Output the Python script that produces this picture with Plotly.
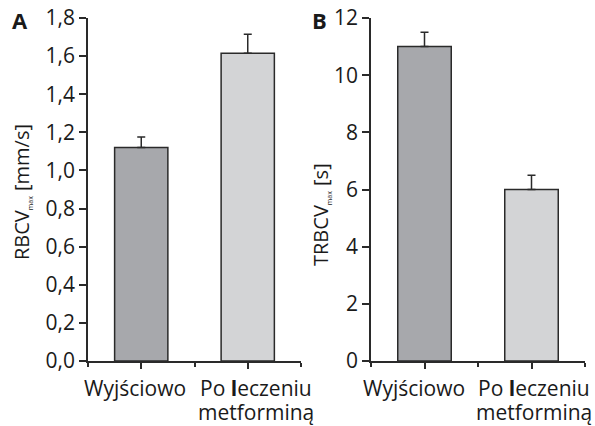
import plotly.graph_objects as go

# ---- data ----
categories = ["Wyjściowo", "Po <b>l</b>eczeniu<br>metforminą"]
rbcv_values = [1.12, 1.615]
rbcv_errors = [0.055, 0.10]
trbcv_values = [11.0, 6.0]
trbcv_errors = [0.5, 0.5]
rbcv_ticks = [0.0, 0.2, 0.4, 0.6, 0.8, 1.0, 1.2, 1.4, 1.6, 1.8]
trbcv_ticks = [0, 2, 4, 6, 8, 10, 12]
bar_colors = ["#a7a8ac", "#d3d4d6"]

W, H = 595, 426
FONT = "Open Sans"
AX = "#2a2a2a"
TXT = "#1a1a1a"

def px_x(p):
    return p / W

def px_y(p):
    return 1 - p / H

xpos = list(range(len(categories)))

fig = go.Figure()
fig.add_trace(go.Bar(
    x=xpos, y=rbcv_values, width=0.5,
    marker=dict(color=bar_colors, line=dict(color=AX, width=1.5)),
    error_y=dict(type="data", array=rbcv_errors, arrayminus=[0, 0], symmetric=False,
                 color=AX, thickness=1.5, width=4),
    xaxis="x", yaxis="y", showlegend=False,
))
fig.add_trace(go.Bar(
    x=xpos, y=trbcv_values, width=0.5,
    marker=dict(color=bar_colors, line=dict(color=AX, width=1.5)),
    error_y=dict(type="data", array=trbcv_errors, arrayminus=[0, 0], symmetric=False,
                 color=AX, thickness=1.5, width=4),
    xaxis="x2", yaxis="y2", showlegend=False,
))

ydom = [px_y(361), px_y(18)]
common_x = dict(
    range=[-0.5, 1.5], tickmode="array", tickvals=xpos, showticklabels=False,
    ticks="outside", ticklen=6, tickwidth=1.5, tickcolor=AX,
    showline=True, linecolor=AX, linewidth=1.5, showgrid=False, zeroline=False,
    minor=dict(tickmode="array", tickvals=[-0.5, 0.5, 1.5], ticks="outside",
               ticklen=4, tickwidth=1.5, tickcolor=AX),
    fixedrange=True, automargin=False,
)
common_y = dict(
    ticks="outside", ticklen=7, tickwidth=1.5, tickcolor=AX,
    showline=True, linecolor=AX, linewidth=1.5, showgrid=False, zeroline=False,
    tickfont=dict(family=FONT, size=21, color=TXT), domain=ydom,
    automargin=False, fixedrange=True,
)

fig.update_layout(
    template="none",
    width=W, height=H, margin=dict(l=0, r=0, t=0, b=0, pad=0),
    paper_bgcolor="white", plot_bgcolor="white", separators=", ",
    bargap=0.5,
    xaxis=dict(domain=[px_x(88), px_x(301)], anchor="y", **common_x),
    yaxis=dict(range=[0, 1.8], tickmode="array", tickvals=rbcv_ticks,
               tickformat=".1f", anchor="x", **common_y),
    xaxis2=dict(domain=[px_x(371), px_x(585)], anchor="y2", **common_x),
    yaxis2=dict(range=[0, 12], tickmode="array", tickvals=trbcv_ticks,
                tickformat="d", anchor="x2", **common_y),
    font=dict(family=FONT, color=TXT),
)

# category labels below the x axes (slightly offset from tick centres as in the original)
label_shift = {"x": [-6, 8], "x2": [-11, 2]}
LINE_GAP = 24
for xr in ("x", "x2"):
    for i, cat in enumerate(categories):
        for j, line in enumerate(cat.split("<br>")):
            fig.add_annotation(text=line, x=xpos[i], xref=xr,
                               y=px_y(372 + j * LINE_GAP), yref="paper",
                               xanchor="center", yanchor="top",
                               xshift=label_shift[xr][i],
                               showarrow=False, align="center",
                               font=dict(family=FONT, size=21, color=TXT))

sub = '<sub><span style="font-size:7px">max</span></sub>'
anns = [
    dict(text="<b>A</b>", x=px_x(20), y=px_y(20), size=22, angle=0),
    dict(text="<b>B</b>", x=px_x(319), y=px_y(20), size=22, angle=0),
    dict(text="RBCV" + sub + " [mm/s]", x=px_x(21), y=px_y(192), size=20, angle=-90),
    dict(text="TRBCV" + sub + " [s]", x=px_x(321), y=px_y(215), size=20, angle=-90),
]
for a in anns:
    fig.add_annotation(text=a["text"], x=a["x"], y=a["y"], xref="paper", yref="paper",
                       xanchor="center", yanchor="middle", showarrow=False,
                       textangle=a["angle"],
                       font=dict(family=FONT, size=a["size"], color=TXT))

fig.write_html("out.html", config={"displayModeBar": False},
               post_script="document.body.style.margin='0';document.body.style.overflow='hidden';")
